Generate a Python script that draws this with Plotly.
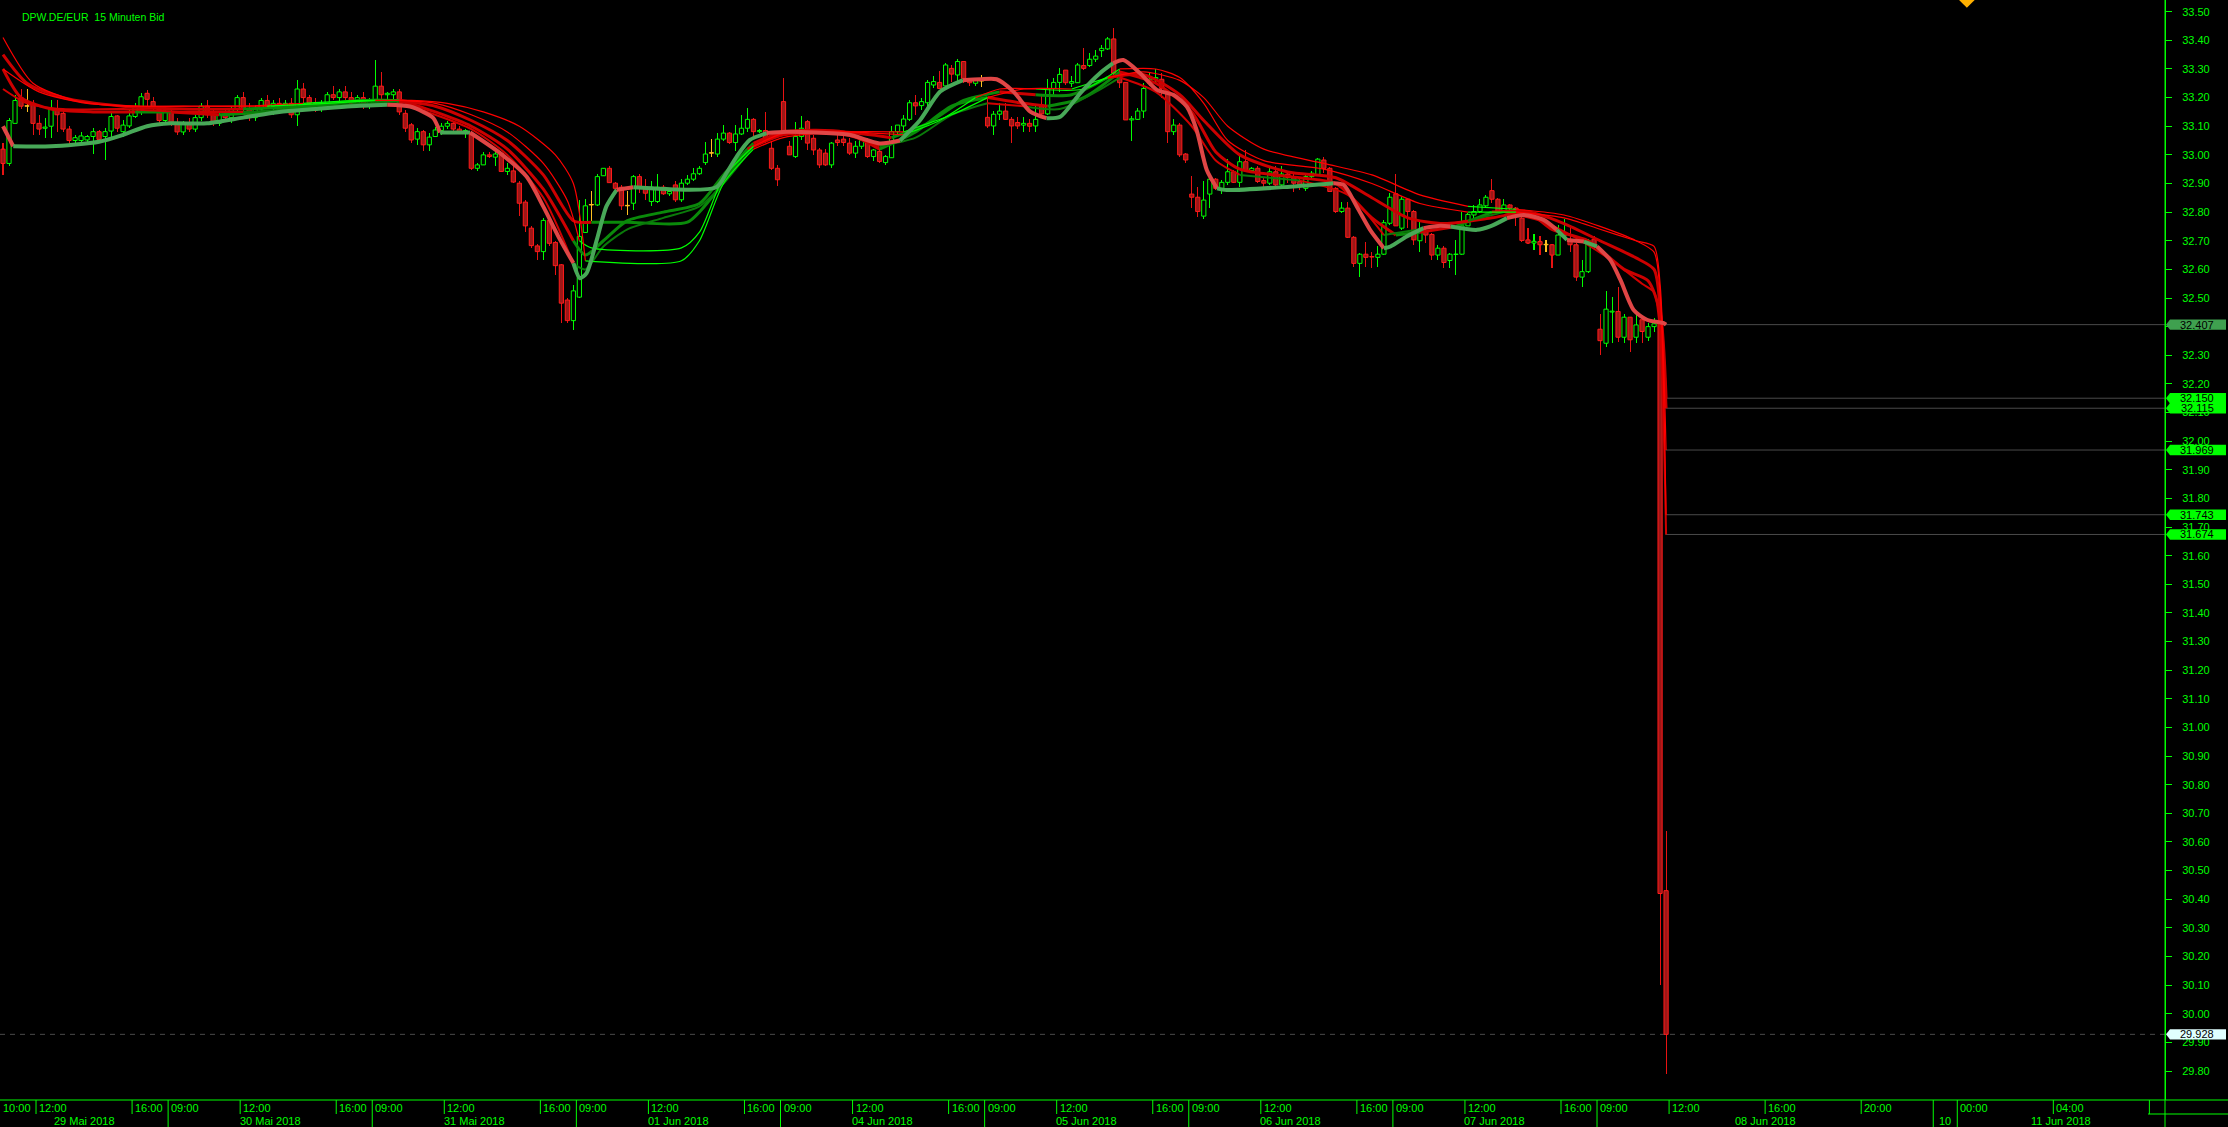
import plotly.graph_objects as go

# ---------------- 15-minute bars (index 0 = 29 Mai 2018 10:30) ----------------
bar_open = [
 33.02,32.97,33.11,33.20,33.17,33.18,33.11,33.093,33.10,33.16,33.145,33.09,33.05,33.05,33.052,33.064,33.081,33.064,33.083,33.136,33.081,33.101,33.134,33.166,33.215,33.186,33.16,33.12,
 33.15,33.11,33.08,33.11,33.09,33.13,33.17,33.14,33.11,33.14,33.13,33.16,33.20,33.16,33.13,33.16,33.19,33.17,33.18,33.16,33.18,33.14,33.23,33.20,33.18,33.16,33.18,33.21,33.20,33.22,33.20,33.18,33.20,33.17,
 33.18,33.24,33.21,33.21,33.22,33.145,33.105,33.055,33.081,33.035,33.064,33.085,33.10,33.11,33.09,33.08,33.07,32.953,32.965,33.0,32.992,33.006,32.942,32.944,32.901,32.835,32.744,32.682,32.662,32.771,32.694,32.616,32.493,32.421,
 32.503,32.729,32.825,32.825,32.927,32.953,32.901,32.887,32.822,32.831,32.924,32.889,32.837,32.837,32.887,32.864,32.895,32.843,32.901,32.915,32.934,32.973,33.006,33.003,33.055,33.076,33.043,33.073,33.093,33.124,33.081,33.085,33.023,32.953,
 33.186,33.03,32.994,33.064,33.116,33.058,33.017,33.006,32.965,33.052,33.055,33.041,33.006,33.03,33.05,32.994,33.012,32.973,32.99,33.081,33.101,33.124,33.182,33.172,33.182,33.244,33.253,33.241,33.302,33.279,33.326,33.259,33.25,33.258,
 33.131,33.101,33.142,33.153,33.124,33.113,33.104,33.11,33.101,33.174,33.143,33.232,33.253,33.296,33.25,33.252,33.312,33.312,33.334,33.364,33.37,33.405,33.285,33.253,33.122,33.124,33.153,33.25,33.264,33.264,33.217,33.081,33.104,33.003,
 32.863,32.852,32.786,32.863,32.915,32.883,32.904,32.941,32.904,32.976,32.945,32.953,32.91,32.901,32.941,32.895,32.933,32.921,32.907,32.883,32.924,32.93,32.982,32.953,32.883,32.802,32.814,32.712,32.621,32.653,32.645,32.642,32.653,32.761,
 32.864,32.744,32.845,32.802,32.70,32.732,32.722,32.65,32.674,32.631,32.652,32.653,32.752,32.79,32.802,32.822,32.875,32.845,32.802,32.825,32.814,32.779,32.703,32.692,32.697,32.686,32.686,32.65,32.717,32.703,32.686,32.573,32.592,32.705,
 32.391,32.342,32.451,32.453,32.363,32.433,32.363,32.424,32.363,32.40,32.42,30.43,
]
bar_high = [
 33.04,33.13,33.21,33.23,33.23,33.19,33.14,33.13,33.19,33.19,33.16,33.10,33.07,33.08,33.07,33.093,33.087,33.093,33.145,33.14,33.122,33.155,33.18,33.215,33.227,33.203,33.17,33.16,
 33.16,33.13,33.12,33.13,33.14,33.18,33.19,33.16,33.15,33.16,33.17,33.21,33.22,33.18,33.17,33.20,33.21,33.19,33.20,33.19,33.20,33.26,33.25,33.21,33.20,33.19,33.22,33.24,33.23,33.24,33.22,33.21,33.22,33.20,
 33.33,33.29,33.22,33.23,33.23,33.157,33.11,33.093,33.087,33.076,33.099,33.11,33.12,33.115,33.10,33.09,33.076,32.97,33.01,33.01,33.01,33.01,32.97,32.97,32.907,32.843,32.75,32.69,32.779,32.785,32.70,32.62,32.50,32.546,
 32.843,32.845,32.875,32.934,32.953,32.96,32.905,32.895,32.875,32.93,32.933,32.915,32.907,32.933,32.895,32.875,32.907,32.915,32.93,32.953,32.962,33.046,33.055,33.076,33.105,33.081,33.105,33.14,33.163,33.128,33.09,33.15,33.05,32.965,
 33.27,33.05,33.116,33.134,33.122,33.07,33.023,33.02,33.046,33.07,33.07,33.06,33.05,33.06,33.06,33.02,33.02,33.0,33.10,33.10,33.139,33.192,33.209,33.198,33.262,33.274,33.294,33.32,33.314,33.334,33.326,33.265,33.27,33.28,
 33.203,33.154,33.182,33.182,33.133,33.133,33.133,33.124,33.174,33.206,33.264,33.267,33.302,33.298,33.275,33.32,33.372,33.355,33.366,33.384,33.413,33.442,33.296,33.256,33.134,33.163,33.25,33.29,33.30,33.285,33.227,33.124,33.11,33.008,
 32.926,32.887,32.907,32.924,32.918,32.912,32.984,32.947,32.996,33.017,32.959,32.961,32.924,32.959,32.961,32.961,32.941,32.936,32.924,32.93,32.945,32.99,32.994,32.959,32.889,32.837,32.837,32.715,32.658,32.694,32.662,32.682,32.773,32.866,
 32.933,32.854,32.848,32.808,32.767,32.75,32.726,32.686,32.68,32.656,32.703,32.802,32.796,32.825,32.845,32.86,32.915,32.848,32.845,32.828,32.817,32.79,32.744,32.724,32.715,32.703,32.689,32.755,32.776,32.755,32.691,32.633,32.705,32.715,
 32.444,32.523,32.505,32.54,32.444,32.435,32.441,32.43,32.412,32.43,32.44,30.64,
]
bar_low = [
 32.93,32.96,33.11,33.16,33.15,33.07,33.07,33.06,33.06,33.08,33.08,33.03,33.04,33.04,33.04,33.003,33.05,32.982,33.064,33.08,33.061,33.093,33.128,33.14,33.168,33.151,33.10,33.11,
 33.10,33.07,33.07,33.08,33.08,33.12,33.13,33.10,33.10,33.12,33.11,33.15,33.15,33.12,33.12,33.15,33.16,33.14,33.15,33.15,33.13,33.10,33.18,33.17,33.15,33.15,33.17,33.19,33.18,33.19,33.17,33.17,33.16,33.16,
 33.17,33.19,33.19,33.19,33.14,33.081,33.043,33.035,33.012,33.012,33.062,33.07,33.09,33.08,33.075,33.06,32.948,32.942,32.965,32.99,32.96,32.94,32.93,32.90,32.785,32.732,32.674,32.633,32.633,32.68,32.581,32.412,32.412,32.389,
 32.499,32.727,32.77,32.822,32.925,32.901,32.87,32.808,32.79,32.808,32.866,32.843,32.82,32.831,32.86,32.855,32.837,32.837,32.895,32.907,32.93,32.965,32.992,32.994,33.047,33.038,33.012,33.07,33.081,33.066,33.075,33.04,32.948,32.892,
 33.065,32.998,32.988,33.052,33.017,33.0,32.953,32.96,32.953,33.03,33.03,33.0,32.99,33.02,32.99,32.98,32.97,32.965,32.99,33.07,33.07,33.12,33.139,33.156,33.163,33.232,33.232,33.238,33.256,33.256,33.25,33.24,33.24,33.238,
 33.093,33.07,33.122,33.122,33.043,33.09,33.081,33.081,33.081,33.133,33.139,33.209,33.221,33.244,33.238,33.25,33.296,33.308,33.326,33.343,33.366,33.279,33.232,33.122,33.05,33.122,33.128,33.24,33.25,33.197,33.043,33.07,32.994,32.973,
 32.813,32.782,32.775,32.813,32.877,32.863,32.895,32.9,32.889,32.941,32.936,32.9,32.889,32.895,32.889,32.889,32.9,32.872,32.877,32.875,32.92,32.925,32.936,32.872,32.798,32.798,32.709,32.61,32.573,32.61,32.604,32.61,32.65,32.755,
 32.75,32.738,32.744,32.685,32.662,32.691,32.633,32.633,32.604,32.604,32.581,32.65,32.75,32.773,32.796,32.814,32.831,32.798,32.796,32.808,32.752,32.697,32.689,32.666,32.65,32.662,32.604,32.65,32.712,32.662,32.561,32.54,32.589,32.674,
 32.301,32.33,32.342,32.348,32.342,32.313,32.342,32.342,32.35,32.38,30.10,29.79,
]
bar_close = [
 32.97,33.12,33.19,33.17,33.17,33.11,33.09,33.097,33.16,33.14,33.09,33.05,33.06,33.066,33.064,33.081,33.054,33.081,33.134,33.093,33.104,33.136,33.168,33.203,33.194,33.163,33.12,33.15,
 33.11,33.08,33.11,33.09,33.13,33.17,33.14,33.11,33.14,33.13,33.16,33.20,33.16,33.13,33.16,33.19,33.17,33.18,33.16,33.18,33.14,33.23,33.20,33.18,33.16,33.18,33.21,33.20,33.22,33.20,33.18,33.20,33.17,33.19,
 33.24,33.21,33.215,33.22,33.15,33.093,33.052,33.081,33.035,33.062,33.087,33.10,33.11,33.09,33.08,33.085,32.953,32.965,33.0,32.994,33.003,32.942,32.953,32.905,32.831,32.752,32.683,32.662,32.771,32.691,32.613,32.482,32.421,32.525,
 32.715,32.822,32.825,32.924,32.953,32.903,32.883,32.822,32.822,32.924,32.883,32.866,32.887,32.887,32.864,32.872,32.843,32.901,32.915,32.934,32.953,33.003,33.006,33.055,33.076,33.043,33.073,33.093,33.124,33.081,33.085,33.05,32.953,32.913,
 33.076,33.0,33.064,33.093,33.041,33.017,32.965,32.965,33.041,33.043,33.043,33.006,33.03,33.05,32.994,33.017,32.977,32.994,33.081,33.104,33.125,33.182,33.171,33.186,33.253,33.256,33.232,33.314,33.282,33.326,33.267,33.252,33.262,33.258,
 33.101,33.142,33.153,33.124,33.101,33.101,33.11,33.10,33.124,33.143,33.232,33.253,33.281,33.252,33.256,33.314,33.302,33.334,33.345,33.372,33.405,33.285,33.252,33.122,33.126,33.153,33.232,33.264,33.27,33.232,33.081,33.104,33.0,32.982,
 32.852,32.802,32.842,32.915,32.883,32.904,32.941,32.904,32.976,32.945,32.953,32.907,32.901,32.941,32.895,32.933,32.921,32.901,32.892,32.924,32.936,32.985,32.953,32.872,32.802,32.814,32.712,32.621,32.653,32.642,32.643,32.653,32.763,32.852,
 32.752,32.845,32.802,32.703,32.732,32.72,32.65,32.674,32.624,32.653,32.653,32.752,32.792,32.802,32.825,32.852,32.845,32.802,32.825,32.814,32.802,32.701,32.692,32.698,32.686,32.686,32.65,32.72,32.726,32.686,32.573,32.592,32.701,32.686,
 32.351,32.461,32.454,32.363,32.433,32.354,32.406,32.383,32.40,32.41,30.42,29.928,
]

# ---------------- moving-average lines (bar index, price) ----------------
ma1_x = [0,1.7,8,16,20,24,28,34,40,46,52,58,64,67.8,70,71.7,72.8,77.8,82.8,87.2,90,92.8,95,96.1,97.2,98.9,100.5,102.2,105,118.8,120.5,122.2,124.4,127.2,130.5,135.5,141,146,149.4,152.7,156.1,159.9,162.7,165.5,168.3,171.1,173.8,176.1,179.4,182.7,184.9,186.6,189.4,192.2,195,197.2,198.8,200.5,202.2,203.8,214.4,221.6,223.3,225.5,227.7,230,231.1,233.8,236.6,239.4,241.1,245.5,247.7,250.5,253.3,256.6,258.8,260.5,263.3,265.5,267.7,269.4,271.6,273.8,276.6,277]
ma1_y = [33.10,33.03,33.03,33.046,33.07,33.10,33.11,33.11,33.13,33.15,33.16,33.17,33.175,33.169,33.15,33.128,33.078,33.078,33.006,32.924,32.819,32.703,32.622,32.569,32.587,32.703,32.82,32.878,32.887,32.887,32.936,32.994,33.052,33.076,33.081,33.078,33.07,33.04,33.05,33.12,33.221,33.261,33.264,33.264,33.221,33.151,33.128,33.133,33.215,33.285,33.32,33.331,33.285,33.227,33.209,33.168,33.087,32.947,32.883,32.877,32.889,32.901,32.895,32.819,32.738,32.674,32.68,32.715,32.744,32.752,32.75,32.738,32.75,32.779,32.79,32.773,32.738,32.703,32.697,32.68,32.633,32.563,32.458,32.424,32.412,32.407]

ma2_x = [0,3,8,15,22,28,36,44,52,60,66,72,78,84,90,95,97,100,104,110,116,120,125,130,140,146,152,158,164,170,174,180,186,192,198,202,206,216,222,228,232,236,242,248,254,258,264,270,274,276,277]
ma2_y = [33.30,33.20,33.16,33.15,33.15,33.15,33.14,33.15,33.17,33.19,33.19,33.15,33.10,33.02,32.88,32.70,32.65,32.70,32.77,32.80,32.83,32.93,33.04,33.08,33.08,33.02,33.08,33.17,33.20,33.18,33.17,33.20,33.29,33.25,33.15,33.01,32.95,32.92,32.90,32.78,32.72,32.73,32.75,32.80,32.80,32.74,32.70,32.60,32.56,32.45,32.150]

ma3_x = [0,4,10,20,30,40,50,60,66,72,78,84,90,95,98,104,114,118,124,130,140,148,154,160,166,172,178,184,190,196,200,206,214,222,228,234,240,248,254,260,266,272,275,276,277]
ma3_y = [33.35,33.25,33.20,33.17,33.16,33.16,33.17,33.19,33.19,33.17,33.12,33.05,32.93,32.77,32.765,32.765,32.765,32.85,33.02,33.07,33.08,33.06,33.11,33.19,33.22,33.21,33.21,33.27,33.28,33.21,33.12,33.00,32.94,32.92,32.85,32.78,32.76,32.78,32.80,32.76,32.70,32.64,32.60,32.47,32.115]

ma4_x = [0,5,12,20,30,40,50,60,66,72,78,84,90,94,96,98,113,116,120,125,130,140,150,156,162,166,172,180,186,192,196,200,204,210,220,228,236,244,252,260,266,272,275,276,277]
ma4_y = [33.41,33.25,33.19,33.17,33.17,33.17,33.18,33.19,33.19,33.18,33.14,33.08,32.97,32.84,32.70,32.675,32.675,32.73,32.92,33.03,33.075,33.08,33.07,33.12,33.20,33.23,33.23,33.23,33.30,33.30,33.27,33.18,33.05,32.98,32.95,32.90,32.83,32.80,32.80,32.78,32.74,32.70,32.68,32.55,31.969]

ma5_x = [0,6,14,24,34,44,54,62,68,74,80,86,92,95,97,113,116,120,125,130,140,150,158,164,170,178,184,190,196,200,204,210,220,228,236,244,252,260,266,272,275,276,277]
ma5_y = [33.30,33.22,33.18,33.17,33.17,33.17,33.18,33.19,33.19,33.18,33.15,33.10,33.00,32.90,32.63,32.63,32.70,32.90,33.02,33.06,33.08,33.08,33.14,33.20,33.23,33.23,33.27,33.29,33.26,33.20,33.10,33.02,32.97,32.93,32.86,32.82,32.81,32.79,32.75,32.70,32.66,32.52,31.743]

ma6_x = [0,4,10,20,30,40,50,60,66,72,78,84,90,95,97,100,104,110,116,120,125,130,140,146,152,158,164,170,176,182,186,192,198,202,206,216,224,230,236,244,250,256,262,268,273,275,276,277]
ma6_y = [33.23,33.18,33.16,33.16,33.15,33.15,33.16,33.18,33.18,33.14,33.09,33.00,32.85,32.62,32.60,32.68,32.74,32.78,32.82,32.90,33.03,33.07,33.07,33.03,33.06,33.14,33.18,33.17,33.16,33.22,33.27,33.22,33.10,32.98,32.93,32.91,32.86,32.72,32.74,32.77,32.80,32.77,32.71,32.63,32.55,32.52,32.38,31.674]

# ---------------- price labels on the right ----------------
label_prices = [32.407, 32.150, 32.115, 31.969, 31.743, 31.674]
label_colors = ['#3fa04f', '#00ff00', '#00ff00', '#00ff00', '#00ff00', '#00ff00']
bid_price = 29.928

y_tick_values = [29.80,29.90,30.00,30.10,30.20,30.30,30.40,30.50,30.60,30.70,30.80,30.90,31.00,31.10,31.20,31.30,31.40,31.50,31.60,31.70,31.80,31.90,32.00,32.10,32.20,32.30,32.40,32.50,32.60,32.70,32.80,32.90,33.00,33.10,33.20,33.30,33.40,33.50]
y_tick_text = ['29.80','29.90','30.00','30.10','30.20','30.30','30.40','30.50','30.60','30.70','30.80','30.90','31.00','31.10','31.20','31.30','31.40','31.50','31.60','31.70','31.80','31.90','32.00','32.10','32.20','32.30','32.40','32.50','32.60','32.70','32.80','32.90','33.00','33.10','33.20','33.30','33.40','33.50']

# time axis (slot index of each tick)
time_tick_idx = [0,6,22,28,40,56,62,74,90,96,108,124,130,142,158,164,176,192,198,210,226,232,244,260,266,278,294,310,326,342]
time_tick_text = ['10:00','12:00','16:00','09:00','12:00','16:00','09:00','12:00','16:00','09:00','12:00','16:00','09:00','12:00','16:00','09:00','12:00','16:00','09:00','12:00','16:00','09:00','12:00','16:00','09:00','12:00','16:00','20:00','00:00','04:00']
day_sep_idx = [28,62,96,130,164,198,232,266,322,326]
extra_time_sep_idx = [358]
date_label_idx = [14,45,79,113,147,181,215,249,294,324,343.3]
date_label_text = ['29 Mai 2018','30 Mai 2018','31 Mai 2018','01 Jun 2018','04 Jun 2018','05 Jun 2018','06 Jun 2018','07 Jun 2018','08 Jun 2018','10','11 Jun 2018']

X_MAX = 360.6
Y_MIN, Y_MAX = 29.6987, 33.5409
FONT = 'Liberation Sans, Arial, sans-serif'
GREEN = '#00ff00'

# ---------------- build figure ----------------
n = len(bar_close)
xs = [i + 0.5 for i in range(n)]
wick_col, body_fill, body_line, body_base, body_h = [], [], [], [], []
for o, c in zip(bar_open, bar_close):
    if c > o:
        wick_col.append('#00ff00'); body_fill.append('#000000'); body_line.append('#00ff00')
    elif c < o:
        wick_col.append('#e81212'); body_fill.append('#9c1717'); body_line.append('#ff1a1a')
    else:
        wick_col.append('#ffc020'); body_fill.append('#ffc020'); body_line.append('#ffc020')
    body_base.append(min(o, c))
    body_h.append(max(abs(c - o), 0.0015))

fig = go.Figure()
fig.add_trace(go.Bar(x=xs, y=[h - l for h, l in zip(bar_high, bar_low)], base=bar_low,
                     width=0.17, marker=dict(color=wick_col, line=dict(width=0)), hoverinfo='skip'))
fig.add_trace(go.Bar(x=xs, y=body_h, base=body_base, width=0.7,
                     marker=dict(color=body_fill, line=dict(color=body_line, width=1)), hoverinfo='skip'))

ma_styles = [
    (ma2_x, ma2_y, '#0a8a0a', '#cc0000', 3),
    (ma3_x, ma3_y, '#0a8a0a', '#cc0000', 3),
    (ma6_x, ma6_y, '#0a7a0a', '#d00000', 2),
    (ma4_x, ma4_y, '#00ff00', '#ff0000', 1.2),
    (ma5_x, ma5_y, '#00ff00', '#ff0000', 1.2),
    (ma1_x, ma1_y, '#48a858', '#e04646', 4),
]


def segment_state(mx, my, k):
    """green when the bars of this stretch close above the line, red otherwise"""
    lo, hi = mx[k], mx[k + 1]
    idx = [i for i in range(n) if lo <= i <= hi]
    if not idx:
        idx = [min(n - 1, int(round(lo)))]
    mean_close = sum(bar_close[i] for i in idx) / len(idx)
    mean_line = (my[k] + my[k + 1]) / 2
    return 'up' if mean_close >= mean_line else 'dn'


for mx, my, up_c, dn_c, w in ma_styles:
    dirs = [segment_state(mx, my, k) for k in range(len(mx) - 1)]
    start = 0
    for k in range(1, len(dirs) + 1):
        if k == len(dirs) or dirs[k] != dirs[start]:
            seg_x = [v + 0.5 for v in mx[start:k + 1]]
            seg_y = my[start:k + 1]
            fig.add_trace(go.Scatter(x=seg_x, y=seg_y, mode='lines',
                                     line=dict(color=up_c if dirs[start] == 'up' else dn_c, width=w,
                                               shape='spline', smoothing=0.7),
                                     hoverinfo='skip'))
            start = k

# small marker at the top (partly outside)
fig.add_trace(go.Scatter(x=[327.6], y=[Y_MAX], mode='markers',
                         marker=dict(symbol='diamond', size=12, color='#ffb000'), hoverinfo='skip'))

shapes = []
# grey level lines from last bar to axis
for p in label_prices:
    shapes.append(dict(type='line', xref='x', yref='y', x0=277.4, x1=X_MAX, y0=p, y1=p,
                       line=dict(color='#4a4a4a', width=1), layer='below'))
shapes.append(dict(type='line', xref='x', yref='y', x0=0, x1=X_MAX, y0=bid_price, y1=bid_price,
                   line=dict(color='#4a4a4a', width=1, dash='5px,5px'), layer='below'))

# price boxes on the axis
PLOT_W = 2165.0
def px(v):
    return v / PLOT_W
hh = 5.2 / 286.3
for p, col in list(zip(label_prices, label_colors)) + [(bid_price, '#e0ffff')]:
    path = (f"M {px(2166)},{p} L {px(2170)},{p + hh} L {px(2226)},{p + hh} "
            f"L {px(2226)},{p - hh} L {px(2170)},{p - hh} Z")
    shapes.append(dict(type='path', xref='paper', yref='y', path=path,
                       fillcolor=col, line=dict(width=0), layer='above'))

# axis frame lines
PLOT_H = 1100.0
def py(pix):
    return -(pix - PLOT_H) / PLOT_H
shapes.append(dict(type='line', xref='paper', yref='paper', x0=0, x1=2228 / PLOT_W, y0=0, y1=0,
                   line=dict(color=GREEN, width=1)))
shapes.append(dict(type='line', xref='paper', yref='paper', x0=1, x1=1, y0=py(1127), y1=1,
                   line=dict(color=GREEN, width=1)))
shapes.append(dict(type='line', xref='paper', yref='paper', x0=px(2148), x1=2228 / PLOT_W,
                   y0=py(1114), y1=py(1114), line=dict(color=GREEN, width=1)))
for t in time_tick_idx[1:]:
    if t in day_sep_idx:
        continue
    shapes.append(dict(type='line', xref='x', yref='paper', x0=t, x1=t, y0=py(1100), y1=py(1114),
                       line=dict(color=GREEN, width=1)))
for t in extra_time_sep_idx:
    shapes.append(dict(type='line', xref='x', yref='paper', x0=t, x1=t, y0=py(1100), y1=py(1114),
                       line=dict(color=GREEN, width=1)))
for t in day_sep_idx:
    shapes.append(dict(type='line', xref='x', yref='paper', x0=t, x1=t, y0=py(1100), y1=py(1127),
                       line=dict(color=GREEN, width=1)))

annotations = []
annotations.append(dict(text='DPW.DE/EUR  15 Minuten Bid', xref='paper', yref='paper', x=px(20), y=py(17.5),
                        xanchor='left', yanchor='middle', showarrow=False,
                        font=dict(family=FONT, size=10.5, color=GREEN)))
for t, s in zip(time_tick_idx, time_tick_text):
    annotations.append(dict(text=s, xref='x', yref='paper', x=t, y=py(1107.5), xanchor='left', yanchor='middle',
                            xshift=1, showarrow=False, font=dict(family=FONT, size=11, color=GREEN)))
for t, s in zip(date_label_idx, date_label_text):
    annotations.append(dict(text=s, xref='x', yref='paper', x=t, y=py(1121), xanchor='center', yanchor='middle',
                            showarrow=False, font=dict(family=FONT, size=11, color=GREEN)))
for p in label_prices + [bid_price]:
    annotations.append(dict(text=f'{p:.3f}', xref='paper', yref='y', x=px(2197), y=p, xanchor='center',
                            yanchor='middle', showarrow=False, font=dict(family=FONT, size=11, color='#000000')))

fig.update_layout(width=2228, height=1127, margin=dict(l=0, r=63, t=0, b=27, pad=0),
                  paper_bgcolor='#000000', plot_bgcolor='#000000', showlegend=False,
                  barmode='overlay', bargap=0, hovermode=False,
                  shapes=shapes, annotations=annotations)
fig.update_xaxes(range=[0, X_MAX], visible=False, fixedrange=True)
fig.update_yaxes(range=[Y_MIN, Y_MAX], side='right', tickmode='array', tickvals=y_tick_values,
                 ticktext=y_tick_text, showgrid=False, zeroline=False, showline=True, linecolor=GREEN,
                 linewidth=1, ticks='outside', ticklen=6, tickwidth=1, tickcolor=GREEN,
                 tickfont=dict(family=FONT, size=11, color=GREEN), ticklabelstandoff=8, fixedrange=True)

fig.write_html('out.html', config={'displayModeBar': False, 'staticPlot': True},
               post_script="document.body.style.margin='0';document.body.style.background='#000';")
